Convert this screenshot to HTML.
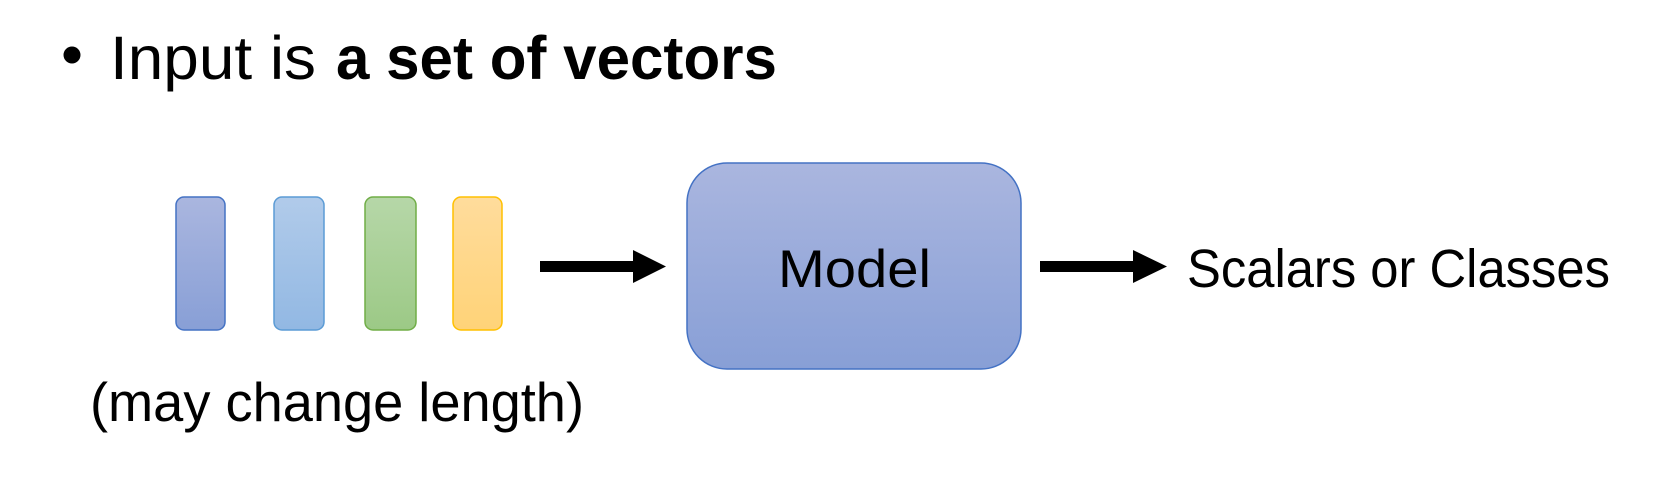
<!DOCTYPE html>
<html><head><meta charset="utf-8"><style>html,body{margin:0;padding:0;background:#fff}svg{display:block}</style></head>
<body>
<svg width="1678" height="478" viewBox="0 0 1678 478" xmlns="http://www.w3.org/2000/svg" font-family="Liberation Sans, sans-serif">
<defs>
<linearGradient id="g1" x1="0" y1="0" x2="0" y2="1"><stop offset="0" stop-color="#aab6df"/><stop offset="1" stop-color="#889fd6"/></linearGradient>
<linearGradient id="g2" x1="0" y1="0" x2="0" y2="1"><stop offset="0" stop-color="#b1cbea"/><stop offset="1" stop-color="#92b8e3"/></linearGradient>
<linearGradient id="g3" x1="0" y1="0" x2="0" y2="1"><stop offset="0" stop-color="#b6d7a8"/><stop offset="1" stop-color="#9cc986"/></linearGradient>
<linearGradient id="g4" x1="0" y1="0" x2="0" y2="1"><stop offset="0" stop-color="#ffdc9c"/><stop offset="1" stop-color="#ffd378"/></linearGradient>
</defs>
<circle cx="72" cy="55" r="8.5" fill="#000"/>
<text x="110" y="79" font-size="61" textLength="206" lengthAdjust="spacingAndGlyphs">Input is</text>
<text x="336" y="79" font-size="61" font-weight="bold" textLength="441" lengthAdjust="spacingAndGlyphs">a set of vectors</text>
<rect x="176" y="197" width="49" height="133" rx="8" fill="url(#g1)" stroke="#4472c4" stroke-width="1.5"/>
<rect x="274" y="197" width="50" height="133" rx="8" fill="url(#g2)" stroke="#5b9bd5" stroke-width="1.5"/>
<rect x="365" y="197" width="51" height="133" rx="8" fill="url(#g3)" stroke="#70ad47" stroke-width="1.5"/>
<rect x="453" y="197" width="49" height="133" rx="8" fill="url(#g4)" stroke="#ffc000" stroke-width="1.5"/>
<polygon points="540,261 633,261 633,250 666,266.5 633,283 633,272 540,272" fill="#000"/>
<rect x="687" y="163" width="334" height="206" rx="40" fill="url(#g1)" stroke="#4472c4" stroke-width="1.5"/>
<text x="778" y="287" font-size="53" textLength="153" lengthAdjust="spacingAndGlyphs">Model</text>
<polygon points="1040,261 1133,261 1133,250 1167,266.5 1133,283 1133,272 1040,272" fill="#000"/>
<text x="1187" y="287" font-size="54" textLength="423" lengthAdjust="spacingAndGlyphs">Scalars or Classes</text>
<text x="90" y="421" font-size="55" textLength="494" lengthAdjust="spacingAndGlyphs">(may change length)</text>
</svg>
</body></html>
